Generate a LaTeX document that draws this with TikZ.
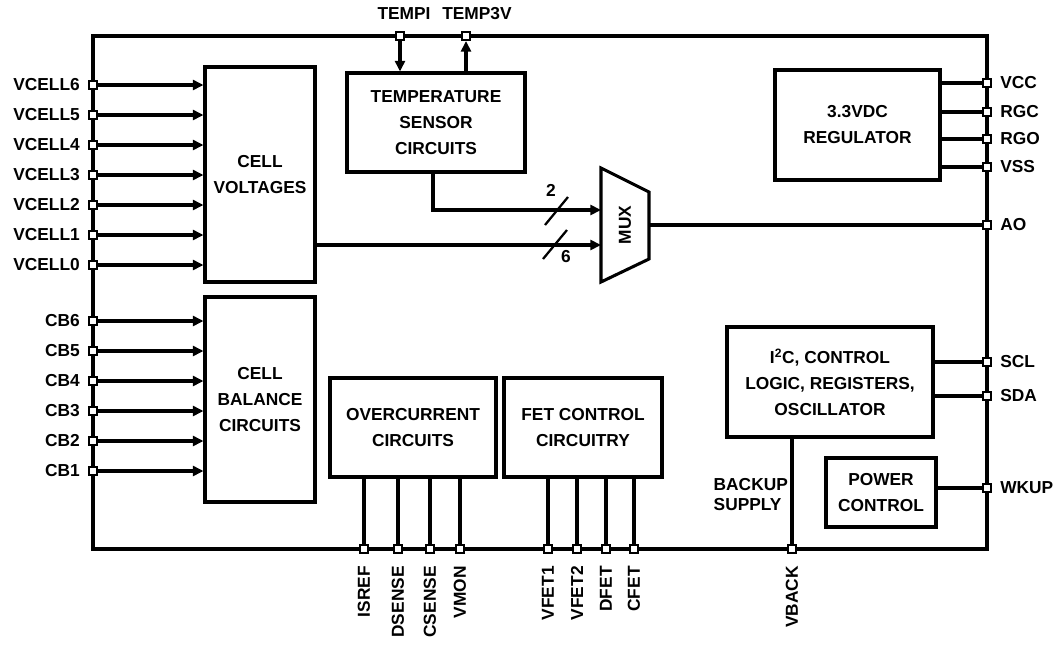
\documentclass[tikz,border=0pt]{standalone}
\usepackage{fontspec}
\setmainfont{Liberation Sans}
\usetikzlibrary{arrows.meta,calc}
\begin{document}
\begin{tikzpicture}[x=0.75pt,y=-0.75pt,
  every node/.style={font=\bfseries\fontsize{13}{15}\selectfont},
  wire/.style={line width=2.3pt},
  arr/.style={wire,-{Triangle[length=8pt,width=7.5pt]}},
  blk/.style={draw,line width=2.3pt,align=center,inner sep=0pt},
  pinbox/.style={draw,fill=white,line width=1.5pt,minimum size=6pt,inner sep=0pt},
  plab/.style={font=\bfseries\fontsize{13}{15}\selectfont,inner sep=0pt},
  box/.style={font=\bfseries\fontsize{13}{19.5}\selectfont}
]
\useasboundingbox (0,0) rectangle (1061,644);
% outer frame
\draw[wire] (93,36) rectangle (987,549);

% blocks
\node[blk,box,minimum width=82.5pt,minimum height=161.25pt] (cv) at (260,174.5) {CELL\\VOLTAGES};
\node[blk,box,minimum width=82.5pt,minimum height=153.75pt] (cb) at (260,399.5) {CELL\\BALANCE\\CIRCUITS};
\node[blk,box,minimum width=133.5pt,minimum height=74.25pt] (temp) at (436,122.5) {TEMPERATURE\\SENSOR\\CIRCUITS};
\node[blk,box,minimum width=123.75pt,minimum height=82.5pt] (reg) at (857.5,125) {3.3VDC\\REGULATOR};
\node[blk,box,minimum width=154.5pt,minimum height=82.5pt] (i2c) at (830,382) {I\textsuperscript{2}C, CONTROL\\LOGIC, REGISTERS,\\OSCILLATOR};
\node[blk,box,minimum width=82.5pt,minimum height=51.75pt] (pwr) at (881,492.5) {POWER\\CONTROL};
\node[blk,box,minimum width=124.5pt,minimum height=74.25pt] (oc) at (413,427.5) {OVERCURRENT\\CIRCUITS};
\node[blk,box,minimum width=118.5pt,minimum height=74.25pt] (fet) at (583,427.5) {FET CONTROL\\CIRCUITRY};

% MUX
\coordinate (m1) at (601,168);
\coordinate (m2) at (649,192);
\coordinate (m3) at (649,259);
\coordinate (m4) at (601,282);
\draw[wire,line join=miter] (m1) -- (m2) -- (m3) -- (m4) -- cycle;
\node[rotate=90] (mux) at (625,225) {MUX};
\coordinate (muxin1) at (601,210);
\coordinate (muxin2) at (601,245);
\coordinate (muxout) at (649,225);

% left pins
\foreach \n/\y in {6/85,5/115,4/145,3/175,2/205,1/235,0/265}{
  \node[pinbox] (pv\n) at (93,\y) {};
  \node[plab,anchor=east] (lv\n) at ([xshift=-6pt]pv\n.west) {VCELL\n};
}
\foreach \n/\y in {6/321,5/351,4/381,3/411,2/441,1/471}{
  \node[pinbox] (pc\n) at (93,\y) {};
  \node[plab,anchor=east] (lc\n) at ([xshift=-6pt]pc\n.west) {CB\n};
}
% top pins
\node[pinbox] (ptempi) at (400,36) {};
\node[pinbox] (ptemp3) at (466,36) {};
\node[plab] (ltempi) at (404,14) {TEMPI};
\node[plab] (ltemp3) at (477,14) {TEMP3V};

% right pins
\foreach \nm/\y in {VCC/83,RGC/112,RGO/139,VSS/167,AO/225,SCL/362,SDA/396,WKUP/488}{
  \node[pinbox] (p\nm) at (987,\y) {};
  \node[plab,anchor=west] (l\nm) at ([xshift=6pt]p\nm.east) {\nm};
}

% bottom pins
\foreach \nm/\x in {ISREF/364,DSENSE/398,CSENSE/430,VMON/460,VFET1/548,VFET2/577,DFET/606,CFET/634,VBACK/792}{
  \node[pinbox] (p\nm) at (\x,549) {};
  \node[plab,rotate=90,anchor=east] (l\nm) at ([yshift=-9pt]p\nm.south) {\nm};
}

% connectors: left
\foreach \n in {6,5,4,3,2,1,0}{
  \draw[arr] (pv\n.east) -- (cv.west |- pv\n);
}
\foreach \n in {6,5,4,3,2,1}{
  \draw[arr] (pc\n.east) -- (cb.west |- pc\n);
}
% top
\draw[arr] (ptempi.south) -- (temp.north -| ptempi);
\draw[arr] (temp.north -| ptemp3) -- (ptemp3.south);
% to mux
\draw[arr] ($(temp.south)+(-3,0)$) |- (muxin1);
\draw[arr] (cv.east |- muxin2) -- (muxin2);
\draw[wire,line width=1.7pt] (545,225) -- (568,197);
\draw[wire,line width=1.7pt] (543,259) -- (567,230);
\node (n2) at (551,190) {2};
\node (n6) at (566,257) {6};
\draw[wire] (muxout) -- (pAO.west);
% right
\foreach \nm in {VCC,RGC,RGO,VSS}{
  \draw[wire] (reg.east |- p\nm) -- (p\nm.west);
}
\draw[wire] (i2c.east |- pSCL) -- (pSCL.west);
\draw[wire] (i2c.east |- pSDA) -- (pSDA.west);
\draw[wire] (pwr.east |- pWKUP) -- (pWKUP.west);
% bottom
\foreach \nm in {ISREF,DSENSE,CSENSE,VMON}{
  \draw[wire] (oc.south -| p\nm) -- (p\nm.north);
}
\foreach \nm in {VFET1,VFET2,DFET,CFET}{
  \draw[wire] (fet.south -| p\nm) -- (p\nm.north);
}
\draw[wire] (i2c.south -| pVBACK) -- (pVBACK.north);
\node[box,align=left,anchor=west,font=\bfseries\fontsize{13}{15}\selectfont] (bkp) at (709,495) {BACKUP\\SUPPLY};
\end{tikzpicture}
\end{document}
